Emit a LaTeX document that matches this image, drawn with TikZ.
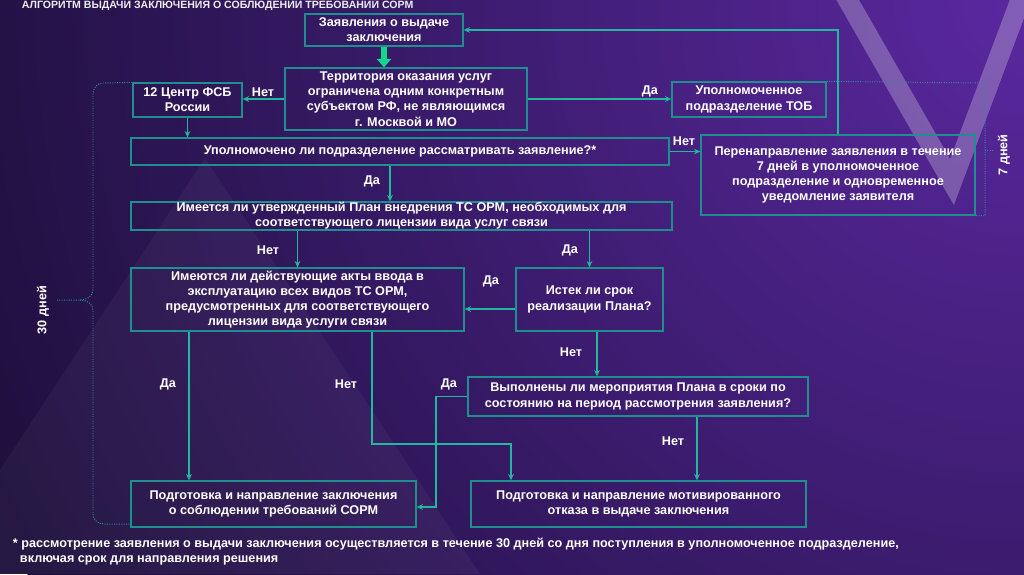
\documentclass[tikz,border=0pt]{standalone}
\usepackage{fontspec}
\setmainfont{Liberation Sans}
\usetikzlibrary{arrows.meta}
\definecolor{bgdark}{HTML}{1D0F3B}
\definecolor{bglight}{HTML}{5A28A0}
\definecolor{boxc}{HTML}{1F8E8E}
\definecolor{arrc}{HTML}{22B8A0}
\definecolor{bigc}{HTML}{14D68E}
\definecolor{dotc}{HTML}{2E8CA0}

\begin{document}
\begin{tikzpicture}[x=0.025cm,y=-0.025cm,>=Stealth,
  bx/.style n args={2}{draw=boxc,line width=0.9pt,align=center,inner sep=0pt,text=white,
    minimum width=#1*0.025cm,minimum height=#2*0.025cm,font=\bfseries\fontsize{9}{10.8}\selectfont},
  ar/.style={-{Stealth[length=4.5pt,width=4pt]},draw=arrc,line width=0.9pt},
  big/.style={-{Triangle[length=6pt,width=10pt]},draw=bigc,line width=4pt},
  lb/.style={text=white,font=\bfseries\fontsize{9}{10.8}\selectfont},
  dt/.style={draw=dotc,densely dotted,line width=0.7pt}]
\useasboundingbox (0,0) rectangle (1024,574);
% background
\begin{scope}
\clip (0,0) rectangle (1024,574);
\fill[bgdark] (0,0) rectangle (1024,574);
\shade[inner color=bglight,outer color=bgdark] (1024,0) circle (1150);
\fill[white,opacity=0.04] (205,158) -- (480,574) -- (0,574) -- (0,470) -- cycle;
\draw[white,opacity=0.25,line width=14pt] (842,-10) -- (952,182) -- (1024,-10);
\end{scope}
\node[anchor=base west,text=white!85!gray,font=\bfseries\fontsize{7.5}{9}\selectfont] (ttl) at (17,8)
  {АЛГОРИТМ ВЫДАЧИ ЗАКЛЮЧЕНИЯ О СОБЛЮДЕНИИ ТРЕБОВАНИЙ СОРМ};

% boxes
\node[bx={158}{32}] (zv) at (384,30) {Заявления о выдаче\\заключения};
\node[bx={242}{62}] (tr) at (406,99) {Территория оказания услуг\\ограничена одним конкретным\\субъектом РФ, не являющимся\\г. Москвой и МО};
\node[bx={109}{34}] (fsb) at (187.5,100) {12 Центр ФСБ\\России};
\node[bx={154}{35}] (tob) at (749,99.5) {Уполномоченное\\подразделение ТОБ};
\node[bx={538}{27}] (up) at (400,151.5) {Уполномочено ли подразделение рассматривать заявление?*};
\node[bx={274}{80}] (pr) at (838,175) {Перенаправление заявления в течение\\7 дней в уполномоченное\\подразделение и одновременное\\уведомление заявителя};
\node[bx={541}{28}] (pl) at (401.5,216) {Имеется ли утвержденный План внедрения ТС ОРМ, необходимых для\\соответствующего лицензии вида услуг связи};
\node[bx={333}{63}] (ak) at (297.5,299.5) {Имеются ли действующие акты ввода в\\эксплуатацию всех видов ТС ОРМ,\\предусмотренных для соответствующего\\лицензии вида услуги связи};
\node[bx={147}{63}] (is) at (589.5,299.5) {Истек ли срок\\реализации Плана?};
\node[bx={340}{39}] (vp) at (638,396.5) {Выполнены ли мероприятия Плана в сроки по\\состоянию на период рассмотрения заявления?};
\node[bx={285}{46}] (pg) at (273.5,504) {Подготовка и направление заключения\\о соблюдении требований СОРМ};
\node[bx={335}{46}] (ot) at (638.5,504) {Подготовка и направление мотивированного\\отказа в выдаче заключения};

% helper points
\coordinate (c1) at (390,0);
\coordinate (c2) at (0,309);
\coordinate (c3) at (597,0);
\coordinate (c4) at (189,0);
\coordinate (c5) at (372,444);
\coordinate (c6) at (511,444);
\coordinate (c7) at (436,507);
\coordinate (c8) at (697,0);

% arrows
\draw[big] (zv.south) -- (zv.south |- tr.north);
\draw[ar] (tr.west) -- (fsb.east |- tr.west);
\draw[ar] (tr.east) -- (tob.west |- tr.east);
\draw[ar] (fsb.south) -- (fsb.south |- up.north);
\draw[ar] (pr.north) |- (zv.east);
\draw[ar] (up.east) -- (pr.west |- up.east);
\draw[ar] (c1 |- up.south) -- (c1 |- pl.north);
\draw[ar] (ak.north |- pl.south) -- (ak.north);
\draw[ar] (is.north |- pl.south) -- (is.north);
\draw[ar] (is.west |- c2) -- (ak.east |- c2);
\draw[ar] (c3 |- is.south) -- (c3 |- vp.north);
\draw[ar] (c4 |- ak.south) -- (c4 |- pg.north);
\draw[ar] (c5 |- ak.south) -- (c5) -- (c6) -- (c6 |- ot.north);
\draw[ar] (vp.west) -| (c7) -- (pg.east |- c7);
\draw[ar] (c8 |- vp.south) -- (c8 |- ot.north);

% labels
\node[lb] (l1) at (263,92) {Нет};
\node[lb] (l2) at (650,91) {Да};
\node[lb] (l3) at (684,141) {Нет};
\node[lb] (l4) at (372,181) {Да};
\node[lb] (l5) at (268,250) {Нет};
\node[lb] (l6) at (570,250) {Да};
\node[lb] (l7) at (491,281) {Да};
\node[lb] (l8) at (571,352) {Нет};
\node[lb] (l9) at (168,384) {Да};
\node[lb] (l10) at (346,384) {Нет};
\node[lb] (l11) at (449,384) {Да};
\node[lb] (l12) at (673,441) {Нет};

% dotted brackets
\coordinate (b1) at (104,524);
\draw[dt] (fsb.north west) -- (103,83) to[out=180,in=90] (93,94) -- (93,290) to[out=-90,in=0] (80,300) -- (57,300);
\draw[dt] (80,300) to[out=0,in=90] (93,310) -- (93,514) to[out=-90,in=180] (b1) -- (pg.west |- b1);
\node[lb,rotate=90] (d30) at (43,310) {30 дней};
\coordinate (b2) at (985,83);
\coordinate (b3) at (985,150);
\draw[dt] (tob.north east) -- (b2) -- (b2 |- pr.south) -- (pr.south east);
\draw[dt] (b3) -- ++(9,0);
\node[lb,rotate=90] (d7) at (1004,155) {7 дней};

% footnote
\node[lb,anchor=north west,align=left] (fn) at (8,533)
  {* рассмотрение заявления о выдачи заключения осуществляется в течение 30 дней со дня поступления в уполномоченное подразделение,\\
   \hspace*{5pt}включая срок для направления решения};
\end{tikzpicture}
\end{document}
